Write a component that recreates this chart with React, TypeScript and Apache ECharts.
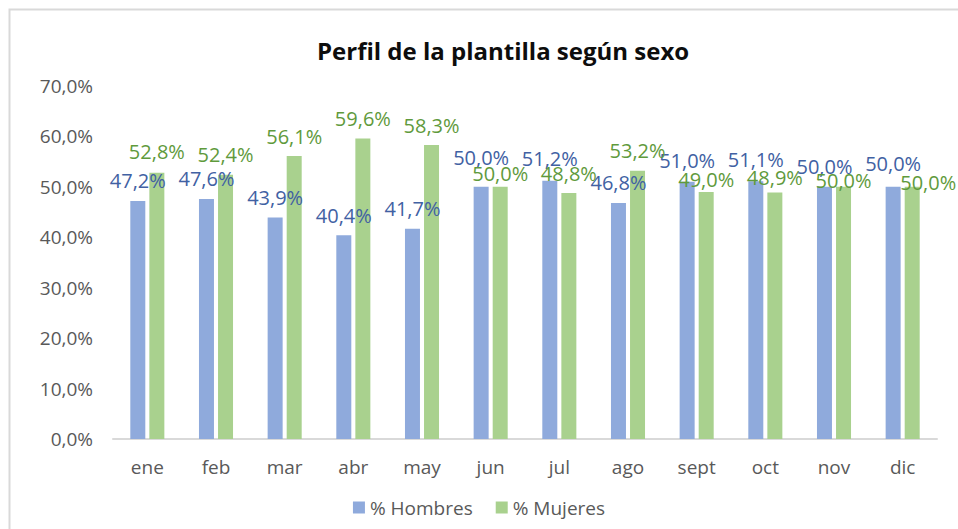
import React, { useEffect, useRef } from "react";
import * as echarts from "echarts";

const months = ["ene", "feb", "mar", "abr", "may", "jun", "jul", "ago", "sept", "oct", "nov", "dic"];
const hombres = [47.2, 47.6, 43.9, 40.4, 41.7, 50.0, 51.2, 46.8, 51.0, 51.1, 50.0, 50.0];
const mujeres = [52.8, 52.4, 56.1, 59.6, 58.3, 50.0, 48.8, 53.2, 49.0, 48.9, 50.0, 50.0];
const yTicks = [0, 10, 20, 30, 40, 50, 60, 70];

// label offsets (Excel moved some overlapping labels)
const hombresOffsets: [number, number][] = [[0, 0], [0, 0], [0, 0], [0, 0], [0, 0], [0, -9], [0, -2], [0, 0], [0, -1], [0, -2], [0, 0], [0, -3]];
const mujeresOffsets: [number, number][] = [[0, -1], [0, 0], [0, 0], [0, 0], [0, 0], [0, 7], [0, 1], [0, 0], [0, 8], [0, 5], [0, 14], [16, 16]];

const fmt = (v: number) => v.toFixed(1).replace(".", ",") + "%";
const FONT = "'Open Sans', 'Noto Sans', sans-serif";

export default function App() {
  const ref = useRef<HTMLDivElement>(null);
  useEffect(() => {
    if (!ref.current) return;
    const chart = echarts.init(ref.current, undefined, { renderer: "svg" });
    const mkData = (vals: number[], offs: [number, number][]) =>
      vals.map((v, i) => ({ value: v, label: { offset: offs[i] } }));
    chart.setOption({
      animation: false,
      backgroundColor: "#ffffff",
      textStyle: { fontFamily: FONT },
      graphic: [
        {
          type: "rect",
          shape: { x: 9.5, y: 9.5, width: 1200, height: 1200 },
          style: { fill: "none", stroke: "#d9d9d9", lineWidth: 2 },
          silent: true,
        },
      ],
      title: {
        text: "Perfil de la plantilla según sexo",
        left: 312,
        top: 33,
        textStyle: { fontFamily: FONT, fontSize: 24, fontWeight: "bold", color: "#0d0d0d" },
      },
      legend: {
        bottom: 7,
        left: "center",
        icon: "rect",
        itemWidth: 12,
        itemHeight: 12,
        itemGap: 23,
        textStyle: { fontFamily: FONT, fontSize: 19, color: "#595959" },
        data: ["% Hombres", "% Mujeres"],
      },
      grid: { left: 113, right: 21, top: 86, bottom: 90, containLabel: false },
      xAxis: {
        type: "category",
        data: months,
        axisLine: { lineStyle: { color: "#d9d9d9", width: 2 } },
        axisTick: { show: false },
        axisLabel: { fontFamily: FONT, fontSize: 19, color: "#595959", margin: 18 },
      },
      yAxis: {
        type: "value",
        min: yTicks[0],
        max: yTicks[yTicks.length - 1],
        interval: 10,
        splitLine: { show: false },
        axisLine: { show: false },
        axisTick: { show: false },
        axisLabel: { fontFamily: FONT, fontSize: 19, color: "#595959", margin: 20, formatter: (v: number) => fmt(v) },
      },
      series: [
        {
          name: "% Hombres",
          type: "bar",
          data: mkData(hombres, hombresOffsets),
          barWidth: 15,
          barGap: "27%",
          itemStyle: { color: "#8faadc" },
          label: {
            show: true,
            position: "top",
            distance: 10,
            fontFamily: FONT,
            fontSize: 20,
            color: "#4161a3",
            formatter: (p: any) => fmt(p.value),
          },
        },
        {
          name: "% Mujeres",
          type: "bar",
          data: mkData(mujeres, mujeresOffsets),
          barWidth: 15,
          itemStyle: { color: "#a9d18e" },
          label: {
            show: true,
            position: "top",
            distance: 10,
            fontFamily: FONT,
            fontSize: 20,
            color: "#5f9a3c",
            formatter: (p: any) => fmt(p.value),
          },
        },
      ],
    });
    return () => chart.dispose();
  }, []);
  return (
    <div
      ref={ref}
      style={{ position: "fixed", left: 0, top: 0, width: 958, height: 529, background: "#fff" }}
    />
  );
}
